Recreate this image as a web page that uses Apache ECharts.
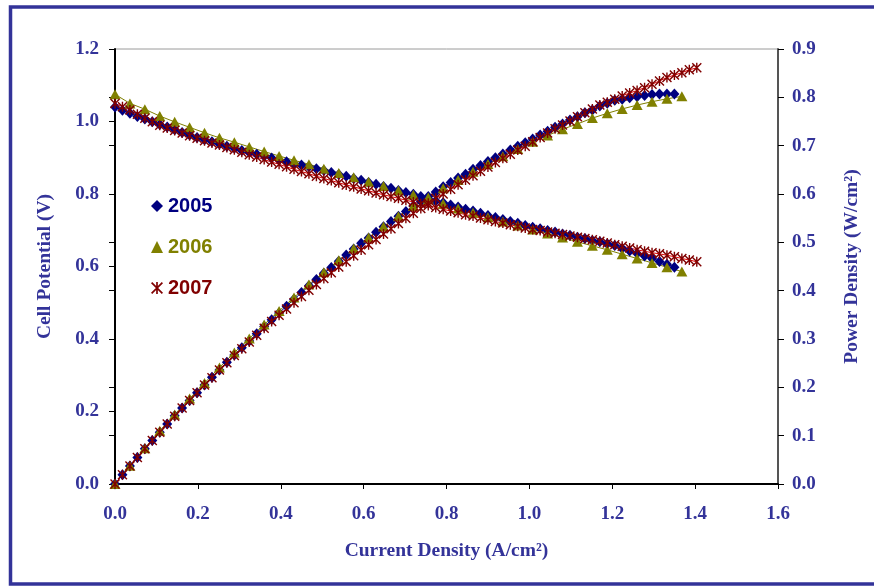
<!DOCTYPE html>
<html>
<head>
<meta charset="utf-8">
<script src="https://cdn.jsdelivr.net/npm/echarts@6/dist/echarts.min.js"></script>
<style>
html,body{margin:0;padding:0;background:#fff;}
#chart{width:874px;height:586px;}
</style>
</head>
<body>
<div id="chart"></div>
<script>
// Current density (A/cm2) for 2005 and 2007 measurements
const current = [0,0.018,0.036,0.054,0.072,0.09,0.108,0.126,0.144,0.162,0.18,0.198,0.216,0.234,0.252,0.27,0.288,0.306,0.324,0.342,0.36,0.378,0.396,0.414,0.432,0.45,0.468,0.486,0.504,0.522,0.54,0.558,0.576,0.594,0.612,0.63,0.648,0.666,0.684,0.702,0.72,0.738,0.756,0.774,0.792,0.81,0.828,0.846,0.864,0.882,0.9,0.918,0.936,0.954,0.972,0.99,1.008,1.026,1.044,1.062,1.08,1.098,1.116,1.134,1.152,1.17,1.188,1.206,1.224,1.242,1.26,1.278,1.296,1.314,1.332,1.35,1.368,1.386,1.404];
const current2006 = [0,0.036,0.072,0.108,0.144,0.18,0.216,0.252,0.288,0.324,0.36,0.396,0.432,0.468,0.504,0.54,0.576,0.612,0.648,0.684,0.72,0.756,0.792,0.828,0.864,0.9,0.936,0.972,1.008,1.044,1.08,1.116,1.152,1.188,1.224,1.26,1.296,1.332,1.368];

// Cell potential (V)
const volt2005 = [1.040,1.031,1.023,1.014,1.007,0.999,0.992,0.985,0.977,0.970,0.963,0.956,0.950,0.944,0.938,0.932,0.926,0.920,0.915,0.910,0.905,0.899,0.894,0.889,0.884,0.880,0.875,0.870,0.865,0.859,0.854,0.849,0.843,0.838,0.832,0.827,0.821,0.816,0.810,0.804,0.799,0.793,0.787,0.781,0.776,0.770,0.764,0.758,0.753,0.747,0.741,0.735,0.730,0.724,0.719,0.713,0.708,0.704,0.699,0.695,0.690,0.686,0.681,0.677,0.672,0.668,0.663,0.658,0.650,0.643,0.636,0.629,0.622,0.614,0.606,0.598];
const volt2006 = [1.075,1.050,1.034,1.015,0.999,0.984,0.969,0.955,0.943,0.930,0.917,0.905,0.893,0.882,0.870,0.858,0.846,0.834,0.822,0.810,0.798,0.785,0.773,0.760,0.748,0.736,0.724,0.713,0.702,0.691,0.680,0.668,0.657,0.646,0.634,0.622,0.610,0.598,0.586];
const volt2007 = [1.050,1.041,1.032,1.020,1.009,0.999,0.990,0.982,0.975,0.968,0.961,0.954,0.947,0.941,0.935,0.928,0.922,0.915,0.908,0.902,0.895,0.888,0.882,0.875,0.868,0.862,0.856,0.849,0.843,0.837,0.831,0.825,0.820,0.814,0.809,0.803,0.798,0.793,0.788,0.783,0.778,0.773,0.768,0.763,0.758,0.753,0.748,0.743,0.739,0.734,0.729,0.724,0.720,0.715,0.711,0.706,0.702,0.699,0.695,0.692,0.688,0.684,0.681,0.677,0.674,0.670,0.665,0.660,0.656,0.651,0.646,0.642,0.638,0.635,0.631,0.627,0.622,0.618,0.613];

// Power density (W/cm2)
const power2005 = [0,0.019,0.037,0.055,0.073,0.090,0.107,0.124,0.141,0.157,0.173,0.189,0.205,0.221,0.236,0.252,0.267,0.282,0.296,0.311,0.326,0.340,0.354,0.368,0.382,0.396,0.410,0.423,0.436,0.448,0.461,0.474,0.486,0.498,0.509,0.521,0.532,0.543,0.554,0.564,0.575,0.585,0.595,0.604,0.615,0.624,0.633,0.641,0.651,0.659,0.667,0.675,0.683,0.691,0.699,0.706,0.714,0.722,0.730,0.738,0.745,0.753,0.760,0.768,0.774,0.782,0.788,0.794,0.796,0.799,0.801,0.804,0.806,0.807,0.807,0.807];
const power2006 = [0,0.038,0.074,0.110,0.144,0.177,0.209,0.241,0.272,0.301,0.330,0.358,0.386,0.413,0.438,0.463,0.487,0.510,0.533,0.554,0.575,0.593,0.612,0.629,0.646,0.662,0.678,0.693,0.708,0.721,0.734,0.745,0.757,0.767,0.776,0.784,0.791,0.797,0.802];
const power2007 = [0,0.019,0.037,0.055,0.073,0.090,0.107,0.124,0.140,0.157,0.173,0.189,0.205,0.220,0.236,0.251,0.266,0.280,0.294,0.308,0.322,0.336,0.349,0.362,0.375,0.388,0.401,0.413,0.425,0.437,0.449,0.460,0.472,0.484,0.495,0.506,0.517,0.528,0.539,0.550,0.560,0.570,0.581,0.591,0.600,0.610,0.619,0.629,0.638,0.647,0.656,0.665,0.674,0.682,0.691,0.699,0.708,0.717,0.726,0.735,0.743,0.751,0.760,0.768,0.776,0.784,0.790,0.796,0.803,0.809,0.814,0.820,0.827,0.834,0.841,0.846,0.851,0.857,0.861];

const years = ['2005','2006','2007'];
const xTitle = 'Current Density (A/cm²)';
const yLeftTitle = 'Cell Potential (V)';
const yRightTitle = 'Power Density (W/cm²)';

const zip = (xs, ys) => ys.map((y, i) => [xs[i], y]);

const C05 = '#000080', C06 = '#808000', C07 = '#800000', LINE07 = '#e00000';
const AXIS_TXT = '#333399';
const SERIF = '"Liberation Serif", "Times New Roman", serif';
const SANS = '"Liberation Sans", Arial, sans-serif';
const ASTER = 'path://M4.3,0 L5.7,0 L5.7,10 L4.3,10 Z M0,1 L1,0 L10,9 L9,10 Z M9,0 L10,1 L1,10 L0,9 Z';

const labelStyle = {color: AXIS_TXT, fontFamily: SERIF, fontWeight: 'bold', fontSize: 19};
const nameStyle = {color: AXIS_TXT, fontFamily: SERIF, fontWeight: 'bold', fontSize: 19.5};

function mk(name, yIdx, data, sym, size, col, lineCol) {
  return {
    name: name, type: 'line', yAxisIndex: yIdx, data: data,
    symbol: sym, symbolSize: size, showAllSymbol: true,
    itemStyle: {color: col}, lineStyle: {color: lineCol, width: 1},
    emphasis: {disabled: true}, animation: false, clip: false
  };
}

const chart = echarts.init(document.getElementById('chart'), null, {renderer: 'canvas'});
chart.setOption({
  animation: false,
  backgroundColor: '#fff',
  graphic: [{
    type: 'rect', shape: {x: 10.5, y: 7, width: 900, height: 577},
    style: {fill: 'none', stroke: '#333399', lineWidth: 3.5}, silent: true, z: 0
  }],
  grid: {left: 115, right: 96, top: 49, bottom: 102, show: true, borderColor: '#9a9a9a', borderWidth: 1, backgroundColor: 'transparent'},
  legend: {
    orient: 'vertical', left: 146, top: 191, itemWidth: 12, itemHeight: 12, itemGap: 21,
    selectedMode: false,
    textStyle: {fontFamily: SANS, fontWeight: 'bold', fontSize: 20, lineHeight: 20},
    data: [
      {name: years[0], icon: 'diamond', itemStyle: {color: C05}, textStyle: {color: C05}},
      {name: years[1], icon: 'triangle', itemStyle: {color: C06}, textStyle: {color: C06}},
      {name: years[2], icon: ASTER, itemStyle: {color: C07}, textStyle: {color: C07}}
    ]
  },
  xAxis: {
    type: 'value', min: 0, max: 1.6, interval: 0.2,
    name: xTitle, nameLocation: 'middle', nameGap: 57, nameTextStyle: nameStyle,
    axisLine: {show: true, onZero: false, lineStyle: {color: '#000', width: 2}},
    axisTick: {show: true, inside: false, length: 5, lineStyle: {color: '#000', width: 1}},
    axisLabel: Object.assign({margin: 21, formatter: v => v.toFixed(1)}, labelStyle),
    splitLine: {show: false}
  },
  yAxis: [
    {
      type: 'value', min: 0, max: 1.2, interval: 0.2, position: 'left',
      name: yLeftTitle, nameLocation: 'middle', nameGap: 60, nameRotate: 90, nameTextStyle: nameStyle,
      axisLine: {show: true, onZero: false, lineStyle: {color: '#000', width: 2}},
      axisTick: {show: true, inside: false, length: 6, lineStyle: {color: '#000', width: 1}},
      axisLabel: Object.assign({margin: 16, formatter: v => v.toFixed(1)}, labelStyle),
      splitLine: {show: false}
    },
    {
      type: 'value', min: 0, max: 0.9, interval: 0.1, position: 'right',
      name: yRightTitle, nameLocation: 'middle', nameGap: 64, nameRotate: 90, nameTextStyle: nameStyle,
      axisLine: {show: true, onZero: false, lineStyle: {color: '#555', width: 2}},
      axisTick: {show: true, inside: false, length: 6, lineStyle: {color: '#000', width: 1}},
      axisLabel: Object.assign({margin: 14, formatter: v => v.toFixed(1)}, labelStyle),
      splitLine: {show: false}
    },
    {
      type: 'value', min: 0, max: 0.9, interval: 0.1, position: 'right',
      axisLine: {show: false},
      axisTick: {show: true, inside: true, length: 6, lineStyle: {color: '#000', width: 1}},
      axisLabel: {show: false}, splitLine: {show: false}
    }
  ],
  series: [
    mk(years[0], 0, zip(current, volt2005), 'diamond', [10, 11], C05, C05),
    mk(years[0], 1, zip(current, power2005), 'diamond', [10, 11], C05, C05),
    mk(years[1], 0, zip(current2006, volt2006), 'triangle', [11, 10], C06, C06),
    mk(years[1], 1, zip(current2006, power2006), 'triangle', [11, 10], C06, C06),
    mk(years[2], 0, zip(current, volt2007), ASTER, 10, C07, LINE07),
    mk(years[2], 1, zip(current, power2007), ASTER, 10, C07, LINE07)
  ]
});
</script>
</body>
</html>
